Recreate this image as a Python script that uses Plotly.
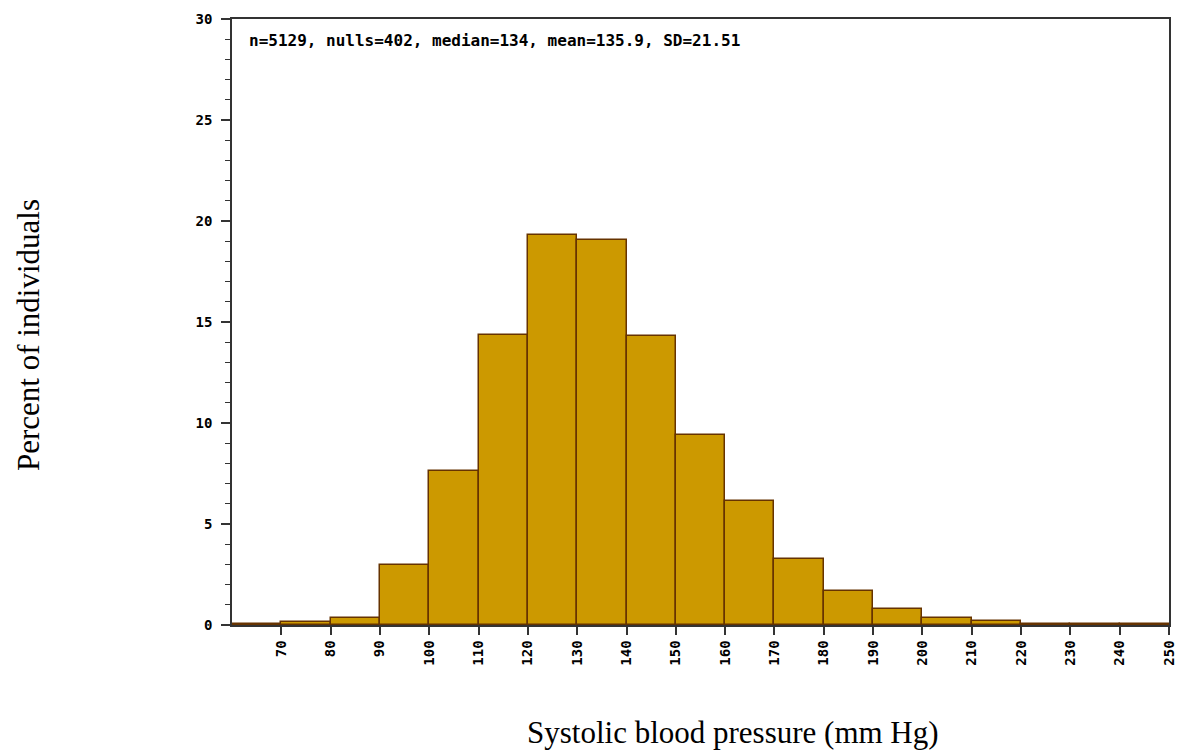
import plotly.graph_objects as go

bin_starts = list(range(60, 250, 10))
percents = [0.05, 0.15, 0.37, 2.97, 7.62, 14.36, 19.32, 19.08, 14.3, 9.42, 6.14, 3.27,
            1.68, 0.79, 0.36, 0.2, 0.05, 0.05, 0.05]
x_ticks = list(range(70, 251, 10))
y_ticks = [0, 5, 10, 15, 20, 25, 30]
stats_text = "n=5129, nulls=402, median=134, mean=135.9, SD=21.51"

centers = [b + 5 for b in bin_starts]

tick_font = dict(family="DejaVu Sans Mono", size=14, color="black", weight="bold")

fig = go.Figure()
fig.add_trace(go.Bar(
    x=centers, y=percents, width=[10] * len(centers),
    marker=dict(color="#CC9900", line=dict(color="#663300", width=1.5)),
    hoverinfo="skip",
))

fig.update_layout(
    width=1178, height=751,
    margin=dict(l=232, r=9, t=19, b=126),
    paper_bgcolor="white", plot_bgcolor="white",
    showlegend=False, bargap=0,
    xaxis=dict(
        range=[60, 250], tickvals=x_ticks, ticktext=[str(v) for v in x_ticks],
        tickangle=-90, ticks="outside", ticklen=8, tickwidth=1.5, tickcolor="#333",
        showline=True, linecolor="#333", linewidth=1.5, mirror=True,
        showgrid=False, zeroline=False, automargin=False, ticklabeloverflow="allow",
        tickfont=tick_font,
    ),
    yaxis=dict(
        range=[0, 30], tickvals=y_ticks, ticks="outside", ticklen=9, tickwidth=1.5,
        tickcolor="#333", showline=True, linecolor="#333", linewidth=1.5, mirror=True,
        showgrid=False, zeroline=False, ticklabelstandoff=6, automargin=False,
        ticklabeloverflow="allow",
        minor=dict(dtick=1, ticks="outside", ticklen=5, tickwidth=1, tickcolor="#333", showgrid=False),
        tickfont=tick_font,
    ),
    font=dict(family="DejaVu Sans Mono"),
)

fig.add_annotation(
    text="<b>" + stats_text + "</b>", xref="paper", yref="paper",
    x=0.016, y=0.965, xanchor="left", yanchor="middle", showarrow=False,
    font=dict(family="DejaVu Sans Mono", size=16, color="black"),
)
fig.add_annotation(
    text="Systolic blood pressure (mm Hg)", xref="paper", yref="paper",
    x=0.535, y=-0.177, xanchor="center", yanchor="middle", showarrow=False,
    font=dict(family="Liberation Serif", size=31, color="black"),
)
fig.add_annotation(
    text="Percent of individuals", xref="paper", yref="paper",
    x=-0.2177, y=0.4785, xanchor="center", yanchor="middle", showarrow=False,
    textangle=-90,
    font=dict(family="Liberation Serif", size=31, color="black"),
)

fig.write_html("out.html")
